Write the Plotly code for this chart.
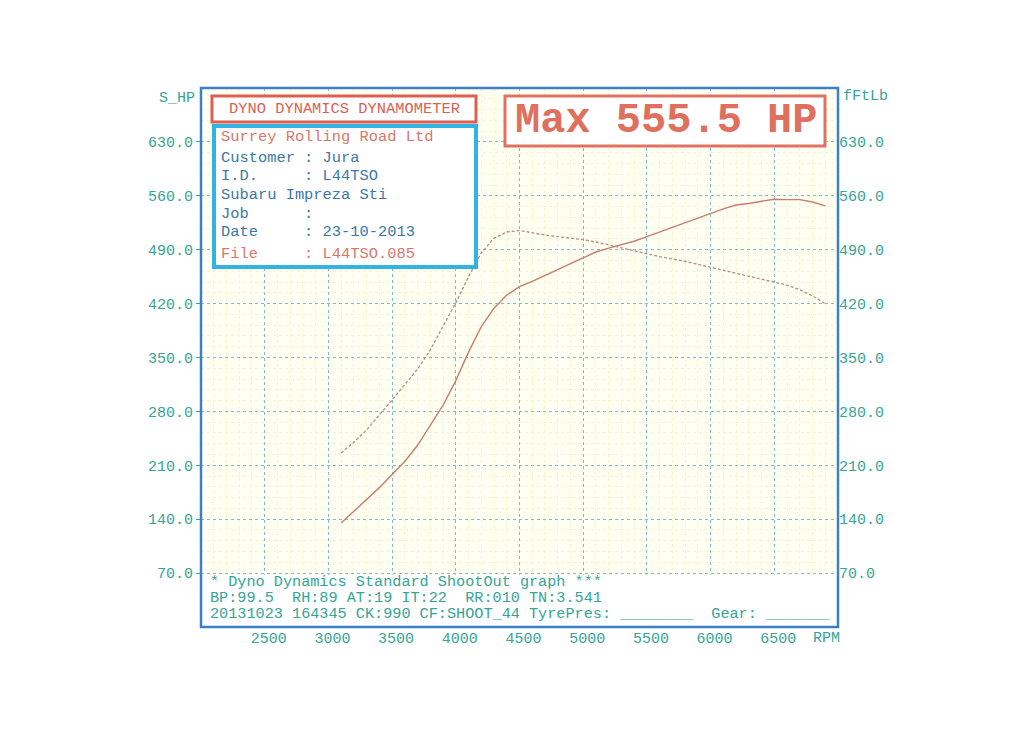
import plotly.graph_objects as go

# ---------------- data (read from the dyno sheet) ----------------
rpm = [3100, 3200, 3300, 3400, 3500, 3600, 3700, 3800, 3900, 4000,
       4100, 4200, 4300, 4400, 4500, 4600, 4700, 4800, 4900, 5000,
       5100, 5200, 5300, 5400, 5500, 5600, 5700, 5800, 5900, 6000,
       6100, 6200, 6300, 6400, 6500, 6600, 6700, 6800, 6900]
power_hp = [135, 150, 166, 181, 198, 215, 236, 262, 288, 320,
            357, 390, 414, 431, 442, 449, 456, 464, 472, 480,
            487, 492, 496, 501, 507, 513, 519, 526, 532, 537,
            543, 548, 550, 553, 555.5, 555, 555, 552, 547]
torque_ftlb = [226, 240, 256, 275, 295, 315, 335, 360, 390, 421,
               455, 486, 505, 513, 515, 512, 509, 507, 505, 503,
               500, 496, 492, 488, 484, 481, 478, 475, 471, 467,
               463, 459, 455, 451, 448, 444, 438, 430, 420]

x_tick_vals = [2500, 3000, 3500, 4000, 4500, 5000, 5500, 6000, 6500]
x_tick_text = ["2500", "3000", "3500", "4000", "4500", "5000", "5500", "6000", "6500"]
y_tick_vals = [70, 140, 210, 280, 350, 420, 490, 560, 630]
y_tick_text = ["70.0", "140.0", "210.0", "280.0", "350.0", "420.0", "490.0", "560.0", "630.0"]

header_text = "DYNO DYNAMICS DYNAMOMETER"
max_text = "Max 555.5 HP"
info_lines = [
    ("Surrey Rolling Road Ltd", "salmon"),
    ("Customer : Jura", "blue"),
    ("I.D.     : L44TSO", "blue"),
    ("Subaru Impreza Sti", "blue"),
    ("Job      :", "blue"),
    ("Date     : 23-10-2013", "blue"),
    ("File     : L44TSO.085", "salmon"),
]
bottom_lines = [
    "* Dyno Dynamics Standard ShootOut graph ***",
    "BP:99.5  RH:89 AT:19 IT:22  RR:010 TN:3.541",
    "20131023 164345 CK:990 CF:SHOOT_44 TyrePres: ________  Gear: _______",
]

# ---------------- styling ----------------
PAGE_OFF = 8                     # default body margin of the html page
W, H = 1024 - 2 * PAGE_OFF, 744 - 2 * PAGE_OFF
L, R, T, B = 201, 838, 88, 627   # plot area in page pixels
FONT = "Liberation Mono"
TEAL = "#35a597"
BLUE_TXT = "#3b78a6"
SALMON = "#d9786a"
RED = "#dc5f52"
CYAN = "#33b3e4"
BORDER = "#3c80c4"


def fx(p):
    return (p - L) / (R - L)


def fy(p):
    return (B - p) / (B - T)


def nb(s):
    return s.replace(" ", "\u00a0")


fig = go.Figure()
fig.add_trace(go.Scatter(x=rpm, y=power_hp, mode="lines", name="S_HP",
                         line=dict(color="#c97c70", width=1.4),
                         hoverinfo="skip"))
fig.add_trace(go.Scatter(x=rpm, y=torque_ftlb, mode="lines", name="fFtLb",
                         yaxis="y2",
                         line=dict(color="#b88a8a", width=1.3, dash="3px,2px"),
                         hoverinfo="skip"))

shapes = []
shapes.append(dict(type="rect", xref="paper", yref="y", x0=0, x1=1, y0=0, y1=68,
                   fillcolor="white", line=dict(width=0), layer="above"))
shapes.append(dict(type="rect", xref="paper", yref="paper", x0=0, x1=1, y0=0, y1=1,
                   line=dict(color=BORDER, width=2.5), layer="above"))
shapes.append(dict(type="rect", xref="paper", yref="paper",
                   x0=fx(212), x1=fx(476), y0=fy(122), y1=fy(96),
                   fillcolor="white", line=dict(color=RED, width=3), layer="above"))
shapes.append(dict(type="rect", xref="paper", yref="paper",
                   x0=fx(214), x1=fx(476), y0=fy(267), y1=fy(126),
                   fillcolor="white", line=dict(color=CYAN, width=4), layer="above"))
shapes.append(dict(type="rect", xref="paper", yref="paper",
                   x0=fx(505), x1=fx(825), y0=fy(146), y1=fy(96),
                   fillcolor="white", line=dict(color="#e07264", width=3), layer="above"))

ann = []
ann.append(dict(text=header_text, xref="paper", yref="paper", x=fx(344), y=fy(109),
                xanchor="center", yanchor="middle", showarrow=False,
                font=dict(family=FONT, size=15.4, color=RED)))
info_y = [137, 158, 176, 195, 214, 232, 254]
for (txt, col), yy in zip(info_lines, info_y):
    ann.append(dict(text=nb(txt), xref="paper", yref="paper", x=fx(219), y=fy(yy),
                    xanchor="left", yanchor="middle", showarrow=False,
                    font=dict(family=FONT, size=15.4,
                              color=SALMON if col == "salmon" else BLUE_TXT)))
ann.append(dict(text="<b>" + nb(max_text) + "</b>", xref="paper", yref="paper",
                x=fx(666), y=fy(121),
                xanchor="center", yanchor="middle", showarrow=False,
                font=dict(family=FONT, size=42, color="#e0705e")))
bot_y = [582, 598, 614]
for txt, yy in zip(bottom_lines, bot_y):
    ann.append(dict(text=nb(txt), xref="paper", yref="paper", x=fx(208), y=fy(yy),
                    xanchor="left", yanchor="middle", showarrow=False,
                    font=dict(family=FONT, size=15.2, color=TEAL)))
ann.append(dict(text="S_HP", xref="paper", yref="paper", x=fx(197), y=fy(98),
                xanchor="right", yanchor="middle", showarrow=False,
                font=dict(family=FONT, size=15, color=TEAL)))
ann.append(dict(text="fFtLb", xref="paper", yref="paper", x=fx(841), y=fy(96),
                xanchor="left", yanchor="middle", showarrow=False,
                font=dict(family=FONT, size=15, color=TEAL)))
ann.append(dict(text="RPM", xref="paper", yref="paper", x=fx(811), y=fy(638),
                xanchor="left", yanchor="middle", showarrow=False,
                font=dict(family=FONT, size=15, color=TEAL)))

fig.update_layout(
    width=W, height=H, autosize=False,
    margin=dict(l=L - PAGE_OFF, r=W - (R - PAGE_OFF), t=T - PAGE_OFF,
                b=H - (B - PAGE_OFF), pad=0),
    paper_bgcolor="white", plot_bgcolor="#fffff2",
    showlegend=False,
    shapes=shapes, annotations=ann,
    xaxis=dict(range=[2000, 7000], tickmode="array", tickvals=x_tick_vals,
               ticktext=x_tick_text, showgrid=True, gridcolor="#7cbad8",
               griddash="dot", gridwidth=1, zeroline=False, showline=False,
               ticks="", ticklabelshift=4,
               tickfont=dict(family=FONT, size=15, color=TEAL),
               minor=dict(tick0=2000, dtick=100, showgrid=True,
                          gridcolor="#f6f1cf", gridwidth=1)),
    yaxis=dict(range=[0, 700], tickmode="array", tickvals=y_tick_vals,
               ticktext=y_tick_text, showgrid=True, gridcolor="#7cbad8",
               griddash="dot", gridwidth=1, zeroline=False, showline=False,
               ticks="outside", ticklen=4, tickcolor=TEAL,
               tickfont=dict(family=FONT, size=15, color=TEAL),
               minor=dict(tick0=0, dtick=14, showgrid=True,
                          gridcolor="#f6f1cf", gridwidth=1)),
    yaxis2=dict(range=[0, 700], overlaying="y", side="right", tickmode="array",
                tickvals=y_tick_vals, ticktext=y_tick_text, showgrid=False,
                zeroline=False, showline=False, ticks="",
                tickfont=dict(family=FONT, size=15, color=TEAL)),
)

fig.write_html("out.html")
